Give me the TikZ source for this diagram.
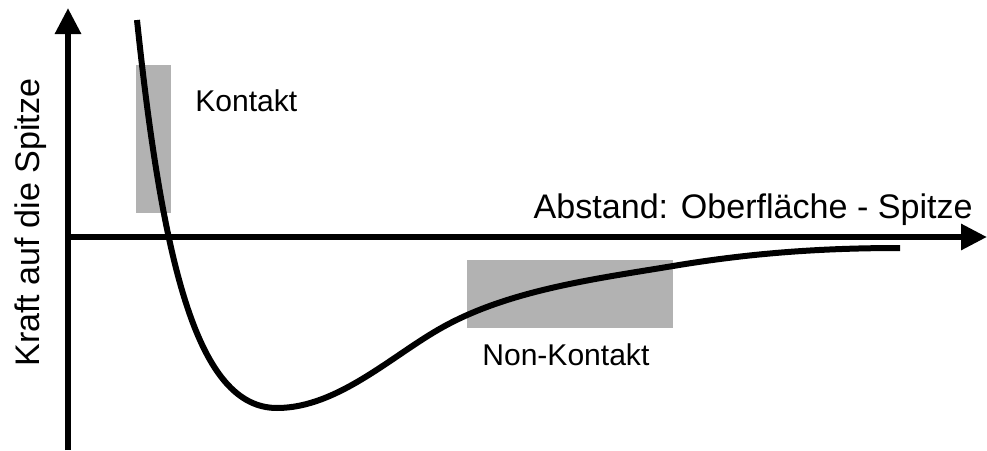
\documentclass[tikz,border=0pt]{standalone}
\usepackage{fontspec}
\setmainfont{Liberation Sans}
\usepackage{tikz}
\usetikzlibrary{arrows.meta, positioning, calc}
\usepackage{xcolor}

\definecolor{regiongray}{gray}{0.7}

\begin{document}
\begin{tikzpicture}[
    axis/.style={line width=1.2mm, -{Triangle[length=5.2mm, width=5mm]}},
    bigtext/.style={font=\fontsize{19.4pt}{23pt}\selectfont, inner sep=0pt},
    smalltext/.style={font=\fontsize{17.1pt}{20pt}\selectfont, inner sep=0pt}
  ]
        \useasboundingbox (-1.36, -4.26) rectangle (18.38, 4.74);

        % regions
        \fill[regiongray] (1.36, 0.48) rectangle (2.06, 3.44);
        \fill[regiongray] (7.98, -1.82) rectangle (12.10, -0.46);

        \coordinate (o) at (0, 0);
        \coordinate (ybot) at (0, -4.26);
        \coordinate (ytop) at (0, 4.58);
        \coordinate (xend) at (18.38, 0);

        \draw[axis] (ybot) -- (ytop);
        \draw[axis] (o) -- (xend);

        % force curve
        \draw[line width=1.2mm] (1.38, 4.34)
            .. controls (1.9, -0.6) and (2.6, -3.42) .. (4.18, -3.42)
            .. controls (5.4, -3.42) and (6.5, -2.35) .. (7.5, -1.8)
            .. controls (8.85, -1.05) and (10.6, -0.83) .. (12.1, -0.58)
            .. controls (13.6, -0.33) and (15, -0.22) .. (16.64, -0.22);

        \node[bigtext, anchor=base east] (xlabel) at (18.10, 0.38) {Abstand: Oberfläche - Spitze};
        \node[bigtext, anchor=base west, rotate=90] (ylabel) at (-0.56, -2.60) {Kraft auf die Spitze};
        \node[smalltext, anchor=base west] (kontakt) at (2.54, 2.52) {Kontakt};
        \node[smalltext, anchor=base west] (nonkontakt) at (8.28, -2.56) {Non-Kontakt};

      \end{tikzpicture}
\end{document}
